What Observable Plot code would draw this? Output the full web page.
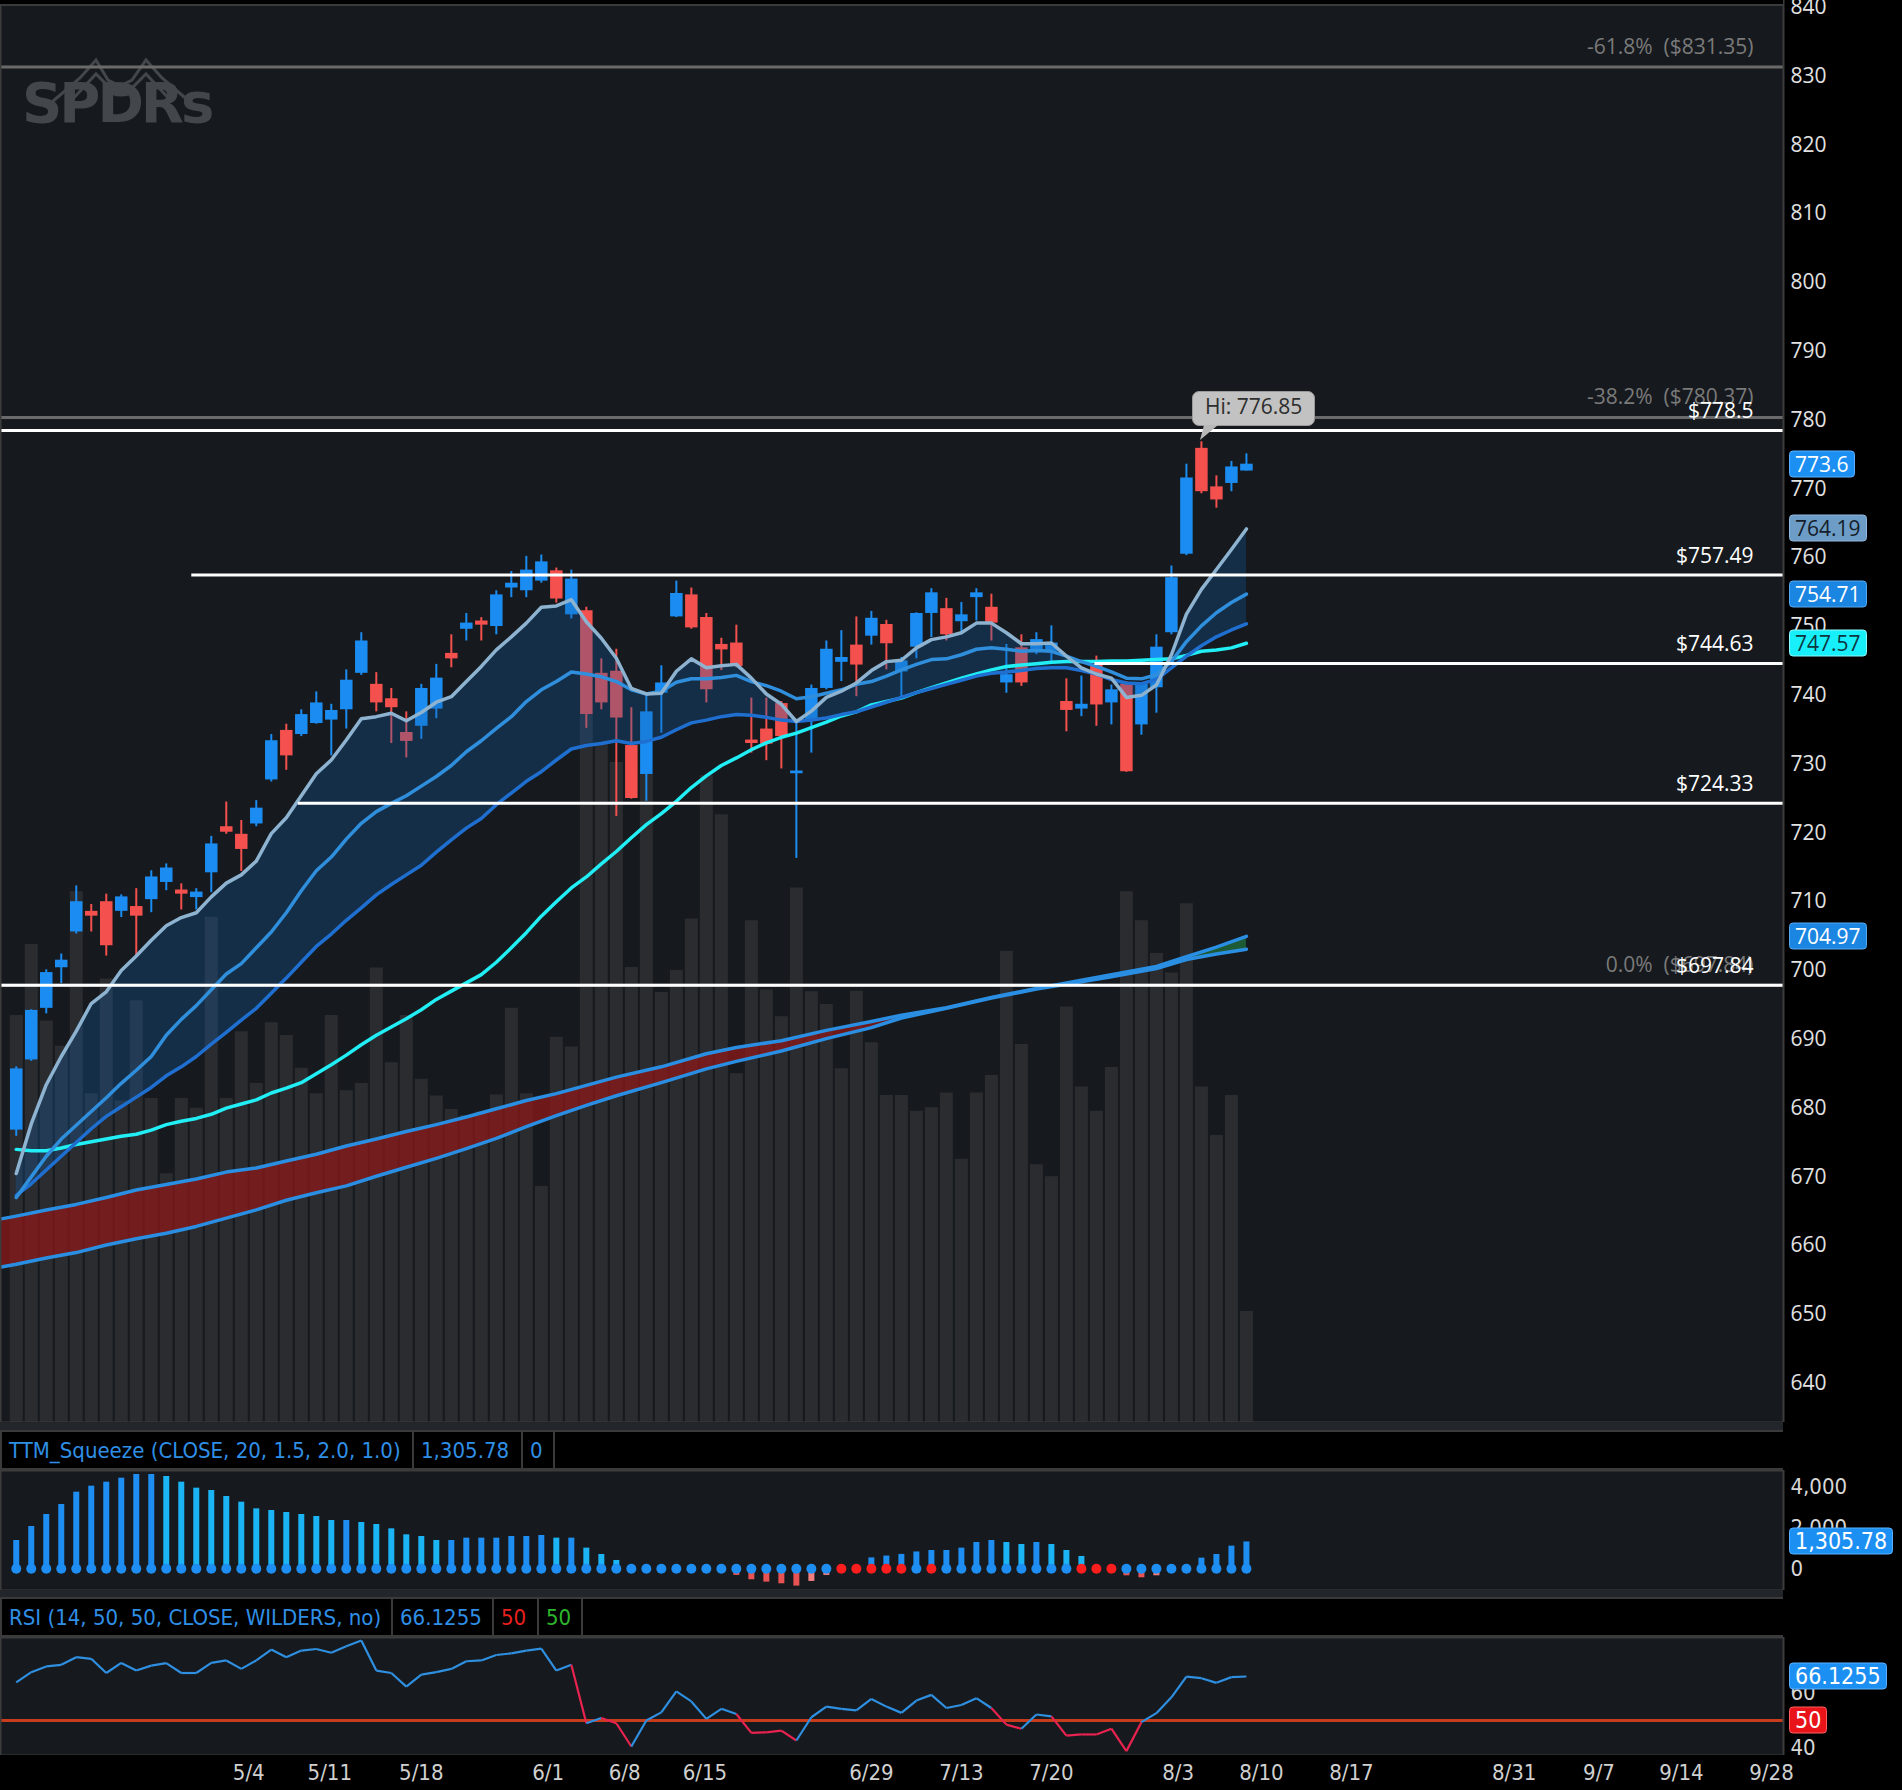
<!DOCTYPE html>
<html><head><meta charset="utf-8">
<script src="https://cdn.jsdelivr.net/npm/d3@7"></script>
<script src="https://cdn.jsdelivr.net/npm/@observablehq/plot@0.6"></script>
<style>
html,body{margin:0;padding:0;background:#000;}
#root{position:relative;width:1902px;height:1790px;background:#000;overflow:hidden;}
.hdr{position:absolute;left:0;width:1783px;height:40px;background:#000;border-top:2px solid #3a3a3a;border-bottom:2px solid #3a3a3a;border-left:2px solid #3a3a3a;box-sizing:border-box;display:flex;align-items:center;font-family:"Liberation Sans Narrow","DejaVu Sans Condensed","Roboto Condensed",sans-serif;font-size:22px;}
.hdr span{box-sizing:border-box;padding-left:7px;height:100%;display:flex;align-items:center;border-right:2px solid #3a3a3a;white-space:nowrap;overflow:hidden;}
.box{position:absolute;height:27px;line-height:25px;padding:0 5px;border-radius:4px;transform:translateY(-50%);box-sizing:border-box;white-space:nowrap;}
.band{position:absolute;left:0;width:1783px;background:#222529;}
</style></head><body><div id="root"></div><script>
// ---------------- data ----------------
const xDomain = [-1.05, 117.8];
const openP = [676.8,687.0,694.5,700.4,705.6,708.6,710.0,708.6,709.3,710.3,
712.8,711.7,710.6,714.2,720.9,719.8,721.3,727.7,734.9,734.3,
735.9,736.4,737.9,743.2,741.6,739.5,734.6,735.5,738.0,746.1,
749.6,750.8,750.0,755.6,755.2,756.6,758.1,751.7,752.3,743.2,
743.5,732.7,728.5,740.3,751.4,754.6,751.3,747.4,747.6,733.5,
735.1,738.8,728.6,736.2,741.0,744.8,747.3,748.6,750.3,743.4,
747.0,751.9,752.6,750.7,754.2,752.8,741.8,746.9,746.4,746.4,
739.1,738.0,744.5,738.9,741.6,735.7,741.1,749.1,760.5,775.9,
770.3,770.8,772.6];
const highP = [686.0,694.3,700.1,702.4,712.3,709.6,711.1,711.0,711.9,714.5,
715.5,712.6,711.9,719.5,724.5,721.8,724.7,734.3,735.8,737.9,
740.5,738.7,743.7,749.1,743.3,741.0,737.6,741.6,744.5,748.8,
751.9,751.3,755.2,758.0,760.2,760.4,758.5,758.2,752.8,745.3,
746.7,738.2,740.2,744.3,756.6,755.6,751.9,748.3,750.2,739.6,
739.6,739.1,736.2,741.5,747.9,749.4,751.4,752.2,750.9,745.5,
752.0,755.5,754.1,753.5,755.5,754.7,747.4,748.8,749.1,750.1,
742.4,742.8,745.7,741.5,742.0,741.6,748.8,758.8,773.6,776.85,
771.9,774.0,775.1];
const lowP = [675.9,686.8,693.7,698.1,705.3,705.6,702.1,707.7,702.1,708.4,
711.6,708.8,708.8,711.3,719.8,714.4,720.9,727.4,729.1,734.0,
735.8,731.2,735.1,742.9,737.6,733.0,730.9,733.6,736.6,744.0,
747.9,747.9,748.8,754.2,754.2,756.3,753.4,751.1,735.2,737.9,
722.4,724.9,724.6,734.5,751.3,749.6,738.9,743.6,744.0,731.6,
730.5,729.3,716.3,731.6,740.8,742.0,739.8,747.3,743.7,739.6,
745.3,748.4,747.9,749.2,750.8,747.9,740.3,741.3,745.9,744.9,
734.7,736.9,735.5,735.7,728.8,734.2,737.4,748.8,760.3,769.3,
767.2,769.6,772.6];
const closeP = [685.7,694.2,699.7,701.5,710.0,707.9,703.6,710.7,707.9,713.6,
714.9,711.1,711.4,718.4,720.1,717.6,723.6,733.4,731.2,737.2,
738.9,737.8,742.2,747.9,738.9,738.2,733.3,741.0,742.5,745.3,
750.5,750.2,754.6,756.3,758.2,759.4,754.0,756.9,737.2,738.9,
736.7,725.0,737.6,741.8,754.8,749.8,740.8,746.6,744.2,733.0,
732.9,734.0,729.0,741.0,746.7,745.5,744.4,751.2,747.5,745.0,
751.9,754.9,748.8,751.7,754.9,750.5,743.0,741.8,748.1,747.6,
737.8,738.7,738.6,740.8,728.9,741.6,747.0,757.1,771.6,769.6,
768.4,773.2,773.6];
const volume = [67.1,78.8,66.2,62.0,87.5,54.2,73.1,53.0,69.5,53.4,
41.0,53.4,51.8,83.3,53.4,64.4,55.9,65.9,63.8,58.4,
54.2,67.1,54.7,55.9,74.9,59.3,67.1,56.6,53.8,51.6,
50.6,51.2,54.0,68.3,54.2,38.9,63.5,61.9,116.8,112.0,
108.8,75.0,107.0,70.9,74.5,83.0,106.6,100.2,57.5,82.7,
71.3,66.9,88.1,71.0,68.9,58.3,71.1,62.6,53.9,53.9,
51.3,51.9,54.3,43.4,54.3,57.2,77.7,62.3,42.5,40.5,
68.5,55.3,51.3,58.5,87.5,82.7,77.3,74.1,85.5,55.3,
47.3,53.9,18.3];
const volumeTop = 234.4;
const emaFast = [670.5,677.7,683.4,687.5,691.2,695.2,696.9,700.0,702.1,704.4,
706.5,707.7,708.4,710.7,712.7,713.9,715.9,719.9,722.2,725.4,
728.6,730.6,733.5,736.6,736.9,737.4,736.3,737.5,739.0,739.8,
742.0,744.2,746.6,748.5,750.5,752.8,753.0,753.9,750.7,748.3,
745.4,741.0,740.2,740.3,743.5,745.3,744.0,744.3,744.5,742.5,
740.2,738.7,736.2,737.7,739.7,740.6,741.8,743.6,744.9,745.1,
746.9,748.1,748.5,749.1,750.5,750.5,749.1,747.5,747.5,747.6,
745.7,744.0,743.1,742.5,739.7,740.0,741.5,745.9,751.8,755.4,
758.3,761.2,764.19];
const emaMid = [667.0,670.0,673.0,675.5,677.5,679.5,681.5,683.6,685.5,687.5,
690.6,692.9,694.9,697.2,699.5,701.0,703.3,705.6,708.4,711.6,
714.5,716.5,719.1,721.4,723.1,724.3,725.4,726.8,728.2,729.8,
731.8,733.4,735.2,736.9,739.1,740.8,742.0,743.4,743.1,742.7,
742.0,740.8,740.2,740.6,741.9,742.4,742.4,742.6,742.9,742.0,
741.4,740.6,739.5,739.8,740.3,740.8,741.6,742.0,742.8,743.7,
744.5,745.2,745.3,745.9,746.7,746.9,746.7,746.4,746.5,746.4,
745.7,744.9,744.2,743.4,742.5,742.4,743.0,744.9,747.8,750.1,
752.0,753.5,754.71];
const emaSlow = [667.3,669.0,671.0,673.0,675.0,677.0,678.8,680.2,681.6,683.0,
684.7,686.0,687.5,689.3,691.0,692.8,694.5,696.7,698.9,701.2,
703.5,705.3,707.3,709.1,711.0,712.5,713.9,715.3,717.2,719.0,
720.7,722.1,724.1,725.8,727.5,728.9,730.6,732.2,732.7,733.0,
733.4,733.0,733.3,733.9,735.0,736.0,736.4,736.9,737.2,737.1,
736.8,736.4,736.2,736.4,736.7,737.2,737.6,738.3,739.0,739.7,
740.4,741.0,741.6,742.2,742.8,743.2,743.4,743.6,743.9,744.0,
744.0,743.6,743.1,742.3,741.8,741.7,742.3,744.0,745.7,747.2,
748.5,749.5,750.4];
const sma50 = [674.0,673.8,673.8,674.2,674.7,675.1,675.5,675.9,676.2,676.8,
677.6,678.1,678.5,679.1,680.0,680.6,681.2,682.2,682.9,683.7,
685.0,686.3,687.7,689.2,690.6,691.8,693.0,694.3,695.8,697.0,
698.2,699.4,701.2,703.3,705.5,707.9,710.0,712.0,713.6,715.5,
717.3,719.3,721.2,722.8,724.6,726.6,728.3,729.8,730.9,732.1,
733.1,733.9,734.5,735.3,736.1,737.0,737.6,738.6,739.1,739.6,
740.4,741.1,741.8,742.5,743.1,743.7,744.2,744.4,744.6,744.8,
744.9,744.9,744.9,745.0,745.0,745.1,745.2,745.3,745.8,746.4,
746.6,746.9,747.57];
const longIdx  = [-1,0,2,4,6,8,10,12,14,16,18,20,22,24,26,28,30,32,34,36,38,40,43,46,48,51,54,57,59,62,65,68,70,73,76,78,80,82];
const longFast = [663.9,664.3,665.2,666.0,667.0,668.1,668.9,669.7,670.7,671.3,672.3,673.3,674.5,675.5,676.6,677.6,678.7,679.9,681.1,682.1,683.3,684.5,686.0,687.9,688.8,689.8,691.3,692.6,693.5,694.6,696.1,697.4,698.2,699.4,700.6,702.0,703.4,704.97];
const longSlow = [656.9,657.3,658.2,659.0,660.1,661.0,661.8,662.8,664.0,665.2,666.6,667.7,668.7,670.1,671.4,672.7,674.1,675.6,677.3,678.9,680.4,681.8,683.7,685.7,686.8,688.3,690.1,691.7,693.1,694.5,696.0,697.3,698.0,699.1,700.3,701.6,702.4,703.1];
const squeeze = [1376,2057,2640,3126,3725,4016,4211,4405,4583,4583,
4486,4211,3919,3806,3514,3239,2915,2834,2737,2640,
2543,2348,2348,2251,2154,1943,1652,1571,1376,1376,
1490,1490,1490,1571,1571,1619,1490,1490,1004,696,
405,100,40,30,20,10,-20,-60,-324,-534,
-648,-729,-842,-615,-324,-60,20,530,620,700,
820,890,890,1004,1279,1376,1279,1182,1279,1182,
890,600,80,-30,-340,-437,-340,20,50,518,
696,1101,1305.78];
const squeezeOn = [55,56,57,58,59,61,71,72,73];
const rsi = [64.0,67.7,69.8,70.4,73.2,72.6,67.4,71.1,68.3,70.1,
71.0,67.4,67.4,71.1,72.0,68.9,72.0,76.0,73.2,75.6,
76.2,74.8,77.2,79.3,68.3,67.4,62.4,66.8,67.7,68.9,
71.7,72.0,74.0,74.6,75.6,76.3,68.3,70.4,49.0,50.9,
49.0,40.5,50.0,53.0,60.7,57.0,50.6,54.3,52.4,45.5,
45.7,46.3,42.7,51.2,55.1,54.3,53.7,57.9,55.1,52.8,
57.3,59.4,54.6,55.7,58.2,54.6,48.5,47.0,52.2,51.5,
44.5,44.9,44.9,47.0,38.8,49.4,52.7,58.5,66.1,65.5,
63.8,65.9,66.1255];
const levelPrices = [778.5, 757.49, 744.63, 724.33, 697.84];
const levelStart  = [-1.05, 11.7, 71.9, 18.8, -1.05];
const fibPrices = [831.35, 780.37, 697.84];
const fibPct = ["-61.8%", "-38.2%", "0.0%"];
const priceTicks = d3.range(640, 841, 10);
const tickPos = [15.5, 20.9, 27.0, 35.45, 40.55, 45.9, 57.0, 63.0, 69.0, 77.45, 83.0, 89.0, 99.85, 105.5, 111.0, 117.0];
const tickLabels = ["5/4","5/11","5/18","6/1","6/8","6/15","6/29","7/13","7/20","8/3","8/10","8/17","8/31","9/7","9/14","9/28"];
const hiIndex = 79, hiValue = 776.85;
const lastLabels = [
  {v: 773.6,  bg: "#1b8ff2", fg: "#ffffff", bd: "#5ab0ff"},
  {v: 764.19, bg: "#6d9dc6", fg: "#14202c", bd: "#8fb8dc"},
  {v: 754.71, bg: "#1a86e2", fg: "#ffffff", bd: "#56a8f0"},
  {v: 747.57, bg: "#17f0fa", fg: "#0e3640", bd: "#8ff8ff"},
  {v: 704.97, bg: "#1a86e2", fg: "#ffffff", bd: "#56a8f0"}
];

// ---------------- build ----------------
const root = document.getElementById("root");
const W = 1902, PR = 1783, MR = W - PR;
const N = openP.length;
const idx = d3.range(N);
const UP = "#1b8df2", DN = "#f4504e";
const condensed = '"Liberation Sans Narrow","DejaVu Sans Condensed","Roboto Condensed",sans-serif';
const candles = idx.map(i => ({i, o: openP[i], h: highP[i], l: lowP[i], c: closeP[i], v: volume[i]}));
const priceRows = idx.map(i => ({i, fast: emaFast[i], mid: emaMid[i], slow: emaSlow[i], sma: sma50[i]}));
const longRows = longIdx.map((i, k) => ({i, a: longFast[k], b: longSlow[k]}));
const levels = levelPrices.map((p, k) => ({price: p, start: levelStart[k], end: xDomain[1]}));
const fibs = fibPrices.map((p, k) => ({price: p, text: fibPct[k] + "\u00a0\u00a0($" + p.toFixed(2) + ")"}));
const candleColor = d => d.c >= d.o ? UP : DN;
const bodyLo = d => Math.abs(d.o - d.c) < 0.35 ? (d.o + d.c) / 2 - 0.18 : Math.min(d.o, d.c);
const bodyHi = d => Math.abs(d.o - d.c) < 0.35 ? (d.o + d.c) / 2 + 0.18 : Math.max(d.o, d.c);

function place(el, top) {
  el.style.position = "absolute"; el.style.left = "0px"; el.style.top = top + "px";
  root.appendChild(el); return el;
}
const base = {width: W, marginLeft: 0, marginRight: MR, marginTop: 0, marginBottom: 0};
const xOpt = {domain: xDomain, axis: null};
const yMainDomain = [634.3, 841.0];

// volume layer
const volPlot = Plot.plot({...base, height: 1422, x: xOpt, y: {domain: [0, volumeTop], axis: null},
  style: {background: "transparent"},
  marks: [
    Plot.frame({fill: "#16191d"}),
    Plot.ruleX(candles, {x: "i", y1: 0, y2: "v", stroke: "#2a2c30", strokeWidth: 13})
  ]});
place(volPlot, 0);

// watermark
const wm = document.createElement("div");
wm.innerHTML = '<svg width="200" height="60" style="position:absolute;left:0;top:0"><g fill="none" stroke="#43464b" stroke-width="3">' +
  '<path d="M30,58 L58,34 L74,16 L86,36 L98,42 L110,36 L124,16 L140,34 L168,58"/>' +
  '<path d="M48,58 L74,30 L92,48 M106,48 L124,30 L150,58"/>' +
  '<ellipse cx="99" cy="46" rx="12" ry="5" fill="#43464b"/></g></svg>' +
  '<div style="position:absolute;left:0;top:26px;font:bold 56px \'DejaVu Sans\',sans-serif;letter-spacing:-3px;color:#43464b;">SPDRs</div>';
wm.style.cssText = "position:absolute;left:22px;top:44px;width:230px;height:100px;";
root.appendChild(wm);

// main price layer
const main = Plot.plot({...base, height: 1422, x: xOpt,
  y: {domain: yMainDomain, axis: "right", ticks: priceTicks, tickSize: 0, tickPadding: 7, label: null, tickFormat: d => String(d)},
  color: {type: "identity"},
  style: {background: "transparent", color: "#e2e2e2", fontFamily: '"Open Sans",sans-serif', fontSize: "21px"},
  marks: [
    Plot.ruleY(fibPrices, {stroke: "#6a6a6a", strokeWidth: 3}),
    Plot.areaY(longRows.filter(d => d.i <= 62), {x: "i", y1: "b", y2: "a", fill: "#8c1818", fillOpacity: 0.75}),
    Plot.areaY(longRows.filter(d => d.i >= 73), {x: "i", y1: "b", y2: "a", fill: "#1f6b3c", fillOpacity: 0.8}),
    Plot.ruleX(candles, {x: "i", y1: "l", y2: "h", stroke: candleColor, strokeWidth: 2}),
    Plot.ruleX(candles, {x: "i", y1: bodyLo, y2: bodyHi, stroke: candleColor, strokeWidth: 12.5}),
    Plot.areaY(priceRows, {x: "i", y1: "slow", y2: "fast", fill: "#1460ad", fillOpacity: 0.3}),
    Plot.line(longRows, {x: "i", y: "a", stroke: "#2a8ee2", strokeWidth: 3.5}),
    Plot.line(longRows, {x: "i", y: "b", stroke: "#2a8ee2", strokeWidth: 3.5}),
    Plot.line(priceRows, {x: "i", y: "sma", stroke: "#22eef5", strokeWidth: 3.5}),
    Plot.line(priceRows, {x: "i", y: "slow", stroke: "#1f6fd0", strokeWidth: 3.5}),
    Plot.line(priceRows, {x: "i", y: "mid", stroke: "#2f8fdc", strokeWidth: 3.5}),
    Plot.line(priceRows, {x: "i", y: "fast", stroke: "#8db3d0", strokeWidth: 3.5}),
    Plot.text(fibs, {y: "price", text: "text", frameAnchor: "right", dx: -30, dy: -20, textAnchor: "end", fill: "#7a7a7a", fontSize: 21}),
    Plot.ruleY(levels, {y: "price", x1: "start", x2: "end", stroke: "#ffffff", strokeWidth: 3}),
    Plot.text(levels, {y: "price", text: d => "$" + String(d.price), frameAnchor: "right", dx: -30, dy: -19, textAnchor: "end", fill: "#ffffff", fontSize: 21}),
    Plot.frame({stroke: "#3c3c3c", strokeWidth: 2})
  ]});
place(main, 0);
const xs = main.scale("x"), ysMain = main.scale("y");

// top strip
const strip = document.createElement("div");
strip.style.cssText = "position:absolute;left:0;top:0;width:1783px;height:4px;background:#000;border-bottom:2px solid #3a3a3a;";
root.appendChild(strip);

function box(top, text, bg, fg, bd, font, size, left) {
  const d = document.createElement("div");
  d.className = "box";
  d.textContent = text;
  d.style.left = (left || 1789) + "px";
  d.style.top = top + "px";
  d.style.background = bg; d.style.color = fg; d.style.border = "1px solid " + bd;
  d.style.fontFamily = font; d.style.fontSize = size + "px";
  root.appendChild(d); return d;
}
for (const b of lastLabels) box(ysMain.apply(b.v), String(b.v), b.bg, b.fg, b.bd, '"Open Sans",sans-serif', 21);

// Hi bubble
{
  const px = xs.apply(hiIndex), py = ysMain.apply(hiValue);
  const bub = document.createElement("div");
  bub.textContent = "Hi: " + hiValue;
  bub.style.cssText = `position:absolute;left:${px - 9}px;top:${py - 50}px;height:35px;line-height:34px;padding:0 12px;border-radius:7px;background:#c2c2c2;border:1px solid #9a9a9a;box-sizing:border-box;color:#2e2e2e;font:21px "Open Sans",sans-serif;`;
  root.appendChild(bub);
  const tail = document.createElementNS("http://www.w3.org/2000/svg", "svg");
  tail.setAttribute("width", "30"); tail.setAttribute("height", "20");
  tail.style.cssText = `position:absolute;left:${px - 3}px;top:${py - 16.5}px;`;
  tail.innerHTML = '<polygon points="6,0 20,0 2,15" fill="#b8b8b8"/>';
  root.appendChild(tail);
}

// bands between panels
const band1 = document.createElement("div"); band1.className = "band"; band1.style.top = "1422px"; band1.style.height = "8px"; root.appendChild(band1);
const band2 = document.createElement("div"); band2.className = "band"; band2.style.top = "1590px"; band2.style.height = "7px"; root.appendChild(band2);

// headers
function header(top, cells) {
  const h = document.createElement("div"); h.className = "hdr"; h.style.top = top + "px";
  for (const c of cells) {
    const s = document.createElement("span"); s.textContent = c.t; s.style.width = c.w + "px"; s.style.color = c.c;
    h.appendChild(s);
  }
  root.appendChild(h);
}
const HB = "#2f8fe6";
header(1430, [{t: "TTM_Squeeze (CLOSE, 20, 1.5, 2.0, 1.0)", w: 412, c: HB}, {t: "1,305.78", w: 109, c: HB}, {t: "0", w: 32, c: HB}]);
header(1597, [{t: "RSI (14, 50, 50, CLOSE, WILDERS, no)", w: 391, c: HB}, {t: "66.1255", w: 101, c: HB}, {t: "50", w: 45, c: "#e8201c"}, {t: "50", w: 44, c: "#2db52d"}]);

// squeeze panel
const sqRows = idx.map(i => ({i, v: squeeze[i], prev: i ? squeeze[i - 1] : squeeze[i], on: squeezeOn.includes(i)}));
const sqColor = d => d.v >= 0 ? (d.v >= d.prev ? "#1e8ef2" : "#1bb5f6") : (d.v <= d.prev ? "#e85252" : "#f07e7e");
const sq = Plot.plot({...base, height: 120, x: xOpt,
  y: {domain: [-1055, 4778], axis: "right", ticks: [0, 2000, 4000], tickFormat: d3.format(","), tickSize: 0, tickPadding: 7, label: null},
  color: {type: "identity"},
  style: {background: "transparent", color: "#d6d6d6", fontFamily: condensed, fontSize: "22px"},
  marks: [
    Plot.frame({fill: "#16191d"}),
    Plot.ruleX(sqRows, {x: "i", y1: 0, y2: "v", stroke: sqColor, strokeWidth: 6}),
    Plot.dot(sqRows, {x: "i", y: 0, r: 5, fill: d => d.on ? "#ff1e1e" : "#1e8ef2", stroke: "none"}),
    Plot.frame({stroke: "#3c3c3c", strokeWidth: 2})
  ]});
place(sq, 1470);
box(1470 + sq.scale("y").apply(squeeze[N - 1]), d3.format(",.2f")(squeeze[N - 1]), "#1b8ff2", "#fff", "#5ab0ff", condensed, 23);

// RSI panel
const rsiSeg = d3.range(N - 1).map(i => ({x1: i, y1: rsi[i], x2: i + 1, y2: rsi[i + 1]}));
const rp = Plot.plot({...base, height: 118, x: xOpt,
  y: {domain: [37.2, 80.4], axis: "right", ticks: [40, 50, 60], tickSize: 0, tickPadding: 7, label: null},
  color: {type: "identity"},
  style: {background: "transparent", color: "#d6d6d6", fontFamily: condensed, fontSize: "22px"},
  marks: [
    Plot.frame({fill: "#16191d"}),
    Plot.ruleY([50], {stroke: "#c83c1c", strokeWidth: 3}),
    Plot.link(rsiSeg, {x1: "x1", y1: "y1", x2: "x2", y2: "y2", stroke: d => d.y2 < 50 ? "#e8234f" : "#2f8fe0", strokeWidth: 2.2}),
    Plot.frame({stroke: "#3c3c3c", strokeWidth: 2})
  ]});
place(rp, 1637);
box(1637 + rp.scale("y").apply(rsi[N - 1]), String(rsi[N - 1]), "#1b8ff2", "#fff", "#5ab0ff", condensed, 23);
box(1637 + rp.scale("y").apply(50), "50", "#e8141a", "#fff", "#ff6060", condensed, 23);

// x axis
const xTicks = tickPos.map((p, k) => ({pos: p, label: tickLabels[k]}));
const xa = Plot.plot({...base, height: 35, x: xOpt,
  style: {background: "transparent", color: "#d0d0d0", fontFamily: condensed, fontSize: "22px"},
  marks: [Plot.text(xTicks, {x: "pos", text: "label", frameAnchor: "middle", fill: "#d0d0d0", fontSize: 22})]});
place(xa, 1755);
</script></body></html>
